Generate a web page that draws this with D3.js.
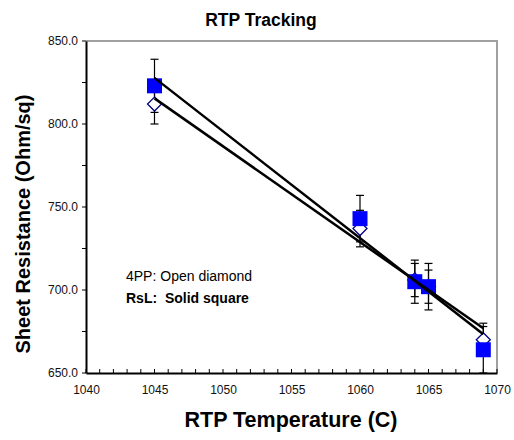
<!DOCTYPE html>
<html>
<head>
<meta charset="utf-8">
<script src="https://cdn.jsdelivr.net/npm/d3@7"></script>
<style>
  body { margin: 0; background: #fff; }
  svg { display: block; font-family: "Liberation Sans", Arial, sans-serif; }
</style>
</head>
<body>
<svg id="chart" width="514" height="440"></svg>
<script>
// RTP temperature settings (C)
const temps = [1045, 1060, 1064, 1065, 1069];
// Four-point probe sheet resistance (Ohm/sq) and its error
const fourPP = [812, 737, 706, 702, 670];
const fourPPErr = [12, 11, 10, 10, 10];
// RsL sheet resistance (Ohm/sq) and its error
const rsl = [823, 743, 705, 702, 664];
const rslErr = [16, 14, 13, 14, 14];
// Axis ticks
const xTicks = [1040, 1045, 1050, 1055, 1060, 1065, 1070];
const yTicks = [650, 700, 750, 800, 850];

const svg = d3.select("#chart");
const plotL = 86, plotR = 497, plotT = 41, plotB = 373;

const x = d3.scaleLinear().domain([1040, 1070]).range([plotL, plotR]);
const y = d3.scaleLinear().domain([650, 850]).range([plotB, plotT]);

// Plot frame: grey top/right edges
svg.append("path")
  .attr("d", `M${plotL},${plotT}H${plotR}V${plotB}`)
  .attr("fill", "none").attr("stroke", "#a0a0a0").attr("stroke-width", 2);

// Minor ticks
svg.append("g").selectAll("line")
  .data(d3.range(1040, 1071, 1))
  .join("line")
  .attr("x1", d => x(d)).attr("x2", d => x(d))
  .attr("y1", plotB).attr("y2", plotB - 4)
  .attr("stroke", "#000");
svg.append("g").selectAll("line")
  .data(d3.range(650, 851, 25))
  .join("line")
  .attr("x1", plotL).attr("x2", plotL - 4)
  .attr("y1", d => y(d)).attr("y2", d => y(d))
  .attr("stroke", "#000");

// Axes
const xAxis = svg.append("g")
  .attr("transform", `translate(0,${plotB})`)
  .call(d3.axisBottom(x).tickValues(xTicks).tickSize(0).tickPadding(12).tickFormat(d3.format("d")));
const yAxis = svg.append("g")
  .attr("transform", `translate(${plotL},0)`)
  .call(d3.axisLeft(y).tickValues(yTicks).tickSize(0).tickPadding(8).tickFormat(d3.format(".1f")));
[xAxis, yAxis].forEach(g => {
  g.select(".domain").attr("stroke", "#000").attr("stroke-width", 2);
  g.selectAll("text").attr("font-size", 12).attr("fill", "#111")
    .attr("font-family", "Liberation Sans, Arial, sans-serif");
});

// Error bars
function errorBars(vals, errs) {
  const g = svg.append("g").attr("stroke", "#000").attr("stroke-width", 1.2);
  temps.forEach((t, i) => {
    const cx = x(t), hi = y(vals[i] + errs[i]), lo = y(vals[i] - errs[i]);
    g.append("line").attr("x1", cx).attr("x2", cx).attr("y1", hi).attr("y2", lo);
    g.append("line").attr("x1", cx - 4).attr("x2", cx + 4).attr("y1", hi).attr("y2", hi);
    g.append("line").attr("x1", cx - 4).attr("x2", cx + 4).attr("y1", lo).attr("y2", lo);
  });
}
errorBars(fourPP, fourPPErr);
errorBars(rsl, rslErr);

// Markers: open diamonds (4PP), solid squares (RsL)
svg.append("g").selectAll("path")
  .data(temps.map((t, i) => [t, fourPP[i]]))
  .join("path")
  .attr("d", d => {
    const cx = x(d[0]), cy = y(d[1]), r = 7;
    return `M${cx},${cy - r}L${cx + r},${cy}L${cx},${cy + r}L${cx - r},${cy}Z`;
  })
  .attr("fill", "#fff").attr("stroke", "#000080").attr("stroke-width", 1.3);

svg.append("g").selectAll("rect")
  .data(temps.map((t, i) => [t, rsl[i]]))
  .join("rect")
  .attr("x", d => x(d[0]) - 7.5).attr("y", d => y(d[1]) - 7.5)
  .attr("width", 15).attr("height", 15)
  .attr("fill", "#0000ff");

// Least-squares trend lines
function trend(vals) {
  const mx = d3.mean(temps), my = d3.mean(vals);
  const sxy = d3.sum(temps, (t, i) => (t - mx) * (vals[i] - my));
  const sxx = d3.sum(temps, t => (t - mx) ** 2);
  const m = sxy / sxx, b = my - m * mx;
  const [x0, x1] = d3.extent(temps);
  svg.append("line")
    .attr("x1", x(x0)).attr("y1", y(m * x0 + b))
    .attr("x2", x(x1)).attr("y2", y(m * x1 + b))
    .attr("stroke", "#000").attr("stroke-width", 2.5);
}
trend(fourPP);
trend(rsl);

// Legend notes
svg.append("text").attr("x", 126).attr("y", 281)
  .attr("font-size", 14).text("4PP: Open diamond");
svg.append("text").attr("x", 126).attr("y", 303)
  .attr("font-size", 14).attr("font-weight", "bold").attr("xml:space", "preserve")
  .text("RsL:  Solid square");

// Titles
svg.append("text").attr("x", 261).attr("y", 26)
  .attr("text-anchor", "middle").attr("font-size", 17.5).attr("font-weight", "bold")
  .text("RTP Tracking");
svg.append("text").attr("x", 291).attr("y", 427)
  .attr("text-anchor", "middle").attr("font-size", 21.5).attr("font-weight", "bold")
  .text("RTP Temperature (C)");
svg.append("text")
  .attr("transform", "translate(30,224) rotate(-90)")
  .attr("text-anchor", "middle").attr("font-size", 20).attr("font-weight", "bold")
  .text("Sheet Resistance (Ohm/sq)");
</script>
</body>
</html>
